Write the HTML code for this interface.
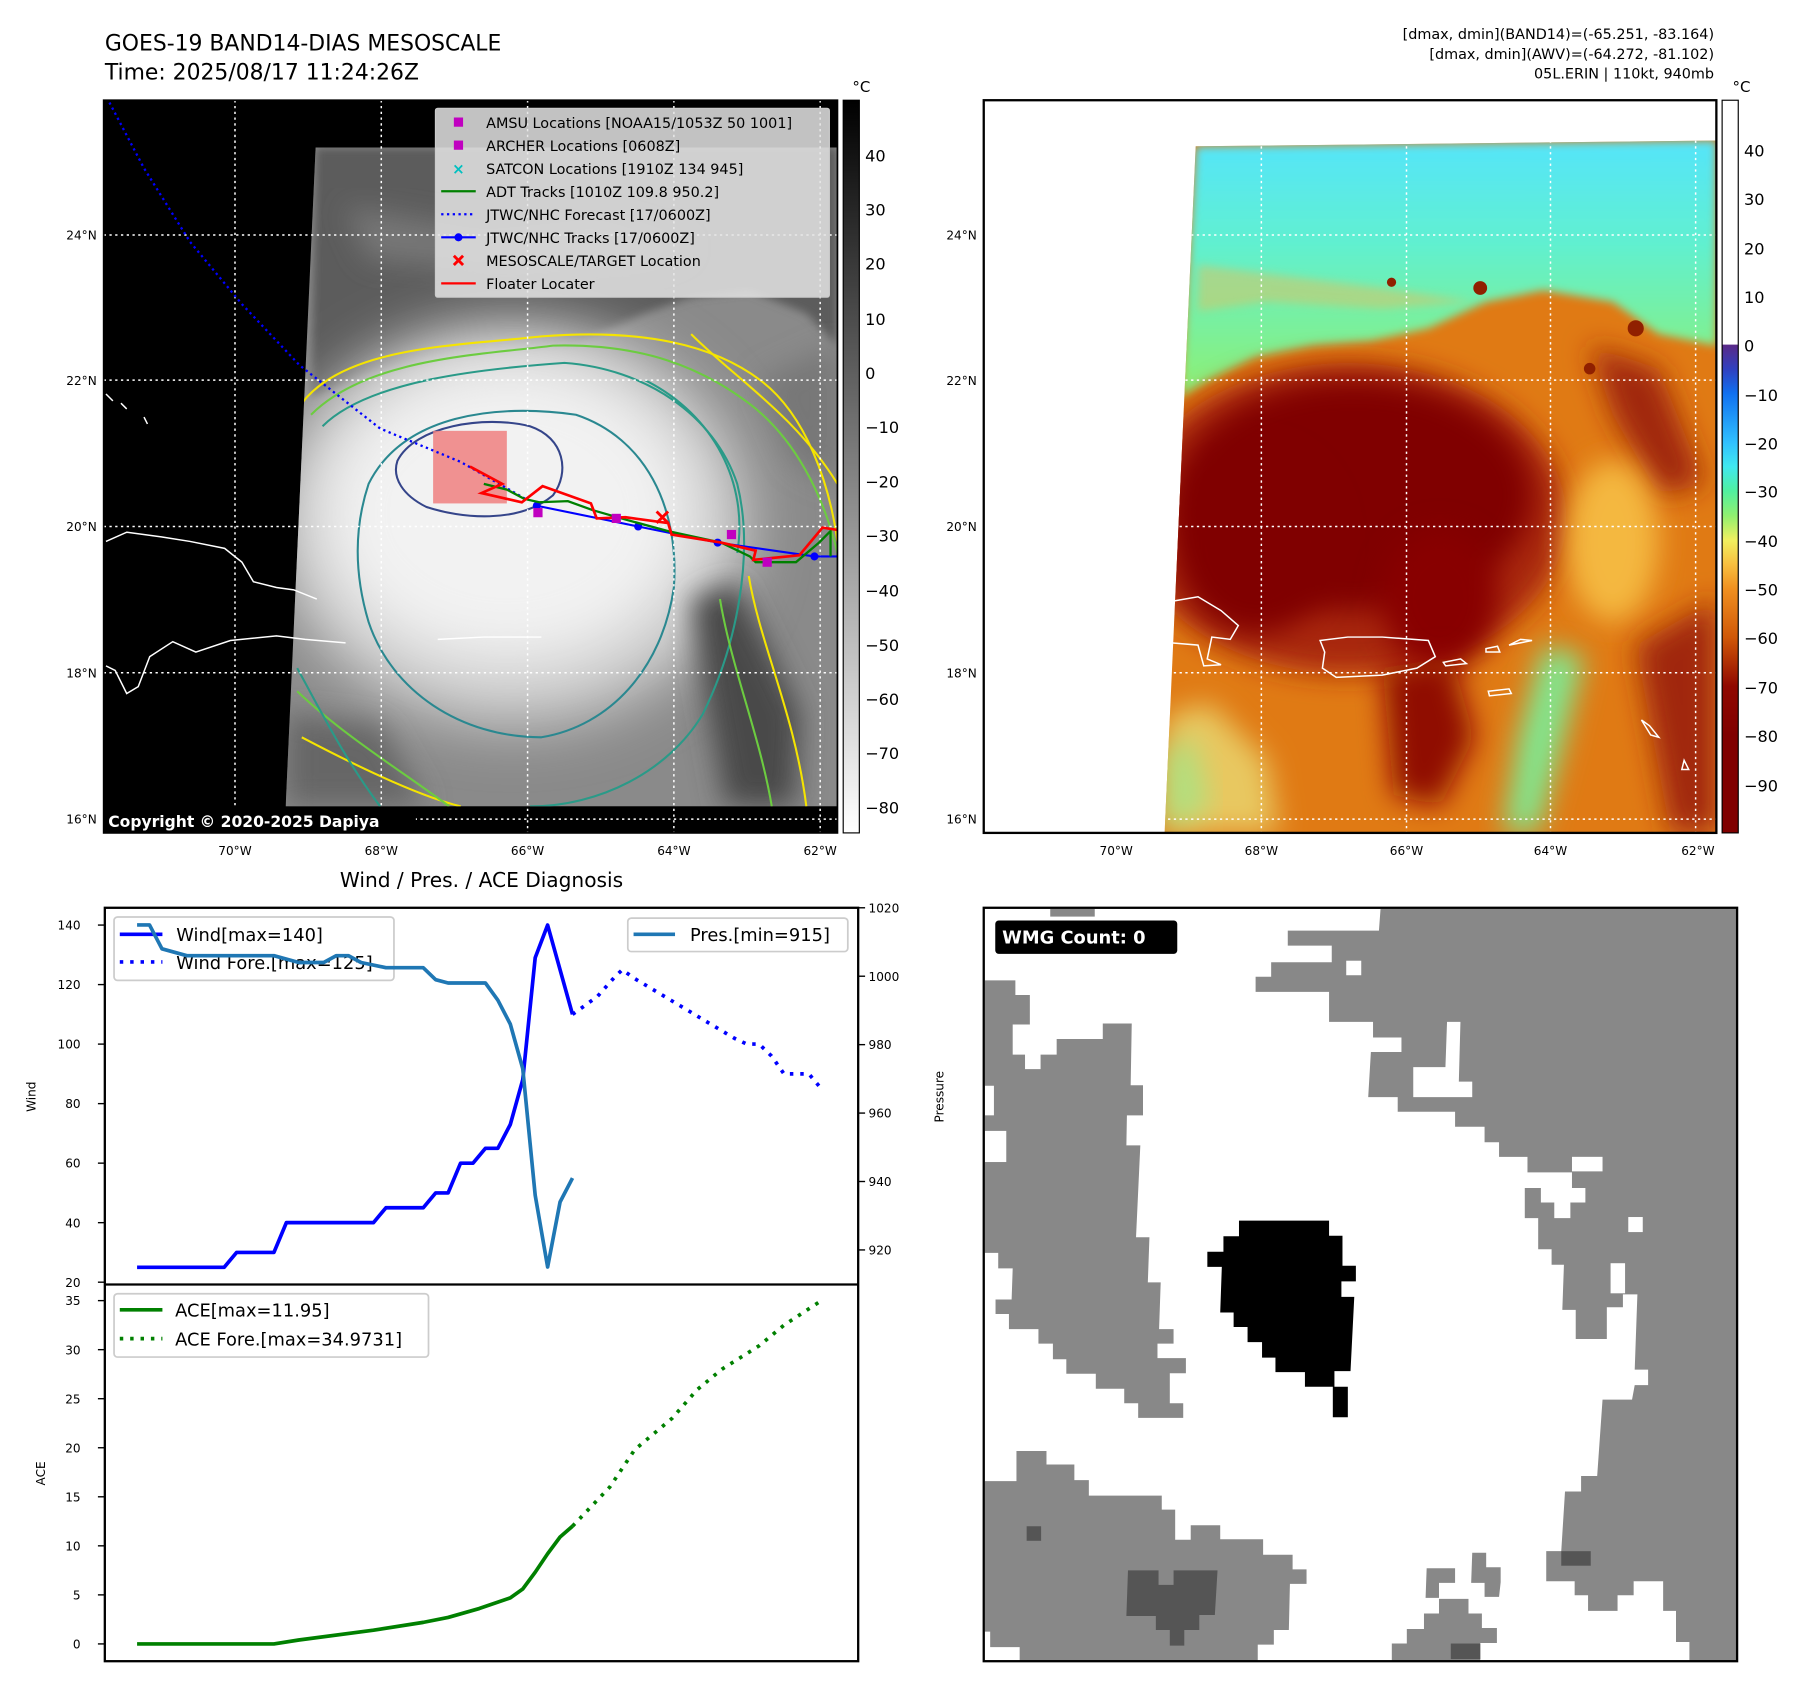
<!DOCTYPE html>
<html><head><meta charset="utf-8"><title>GOES-19 BAND14 Mesoscale</title>
<style>
html,body{margin:0;padding:0;background:#fff;}
svg{display:block;font-family:"DejaVu Sans","Liberation Sans",sans-serif;}
</style></head>
<body>
<svg id="root" xmlns="http://www.w3.org/2000/svg" width="1797" height="1690" viewBox="0 0 1560 1467" preserveAspectRatio="none">
<defs>
 <filter id="b4" x="-20%" y="-20%" width="140%" height="140%"><feGaussianBlur stdDeviation="4"/></filter>
 <filter id="b12" x="-30%" y="-30%" width="160%" height="160%"><feGaussianBlur stdDeviation="12"/></filter>
 <filter id="b25" x="-40%" y="-40%" width="180%" height="180%"><feGaussianBlur stdDeviation="25"/></filter>
 <clipPath id="clip1"><path d="M274,128 L727,128 L727,700 L248,700 Z"/></clipPath>
 <clipPath id="clip2"><path d="M1038,127 L1490,122 L1490,723 L1011,723 Z"/></clipPath>
 <clipPath id="frame1"><rect x="90" y="87" width="637" height="636"/></clipPath>
 <clipPath id="frame2"><rect x="854" y="87" width="636" height="636"/></clipPath>
 <linearGradient id="cb1" x1="0" y1="0" x2="0" y2="1"><stop offset="0" stop-color="#000"/><stop offset="1" stop-color="#fff"/></linearGradient>
 <linearGradient id="cb2" x1="0" y1="0" x2="0" y2="1">
  <stop offset="0" stop-color="#fff"/><stop offset="0.333" stop-color="#fff"/>
  <stop offset="0.334" stop-color="#5a2a88"/><stop offset="0.367" stop-color="#3040c0"/>
  <stop offset="0.40" stop-color="#1070f0"/><stop offset="0.467" stop-color="#30c0ff"/>
  <stop offset="0.50" stop-color="#40e8f0"/><stop offset="0.533" stop-color="#50f0a0"/>
  <stop offset="0.567" stop-color="#90f070"/><stop offset="0.60" stop-color="#f0f060"/>
  <stop offset="0.633" stop-color="#f8c040"/><stop offset="0.667" stop-color="#f09020"/>
  <stop offset="0.733" stop-color="#d05808"/><stop offset="0.80" stop-color="#900800"/>
  <stop offset="0.867" stop-color="#800000"/><stop offset="1" stop-color="#800000"/>
 </linearGradient>
 <linearGradient id="topcyan" x1="0" y1="0" x2="0" y2="1">
  <stop offset="0" stop-color="#55e4fa"/><stop offset="0.4" stop-color="#60f0d0"/><stop offset="1" stop-color="#90f070"/>
 </linearGradient>
</defs>

<text x="91" y="44" font-size="19" fill="#000">GOES-19 BAND14-DIAS MESOSCALE</text>
<text x="91" y="69" font-size="19" fill="#000">Time: 2025/08/17 11:24:26Z</text>
<g font-size="12.5" text-anchor="end" fill="#000">
 <text x="1488" y="34">[dmax, dmin](BAND14)=(-65.251, -83.164)</text>
 <text x="1488" y="51">[dmax, dmin](AWV)=(-64.272, -81.102)</text>
 <text x="1488" y="68">05L.ERIN | 110kt, 940mb</text>
</g>

<!-- MAP 1 -->
<g>
 <rect x="90" y="87" width="637" height="636" fill="#000"/>
 <g clip-path="url(#clip1)">
  <rect x="240" y="120" width="500" height="600" fill="#8a8a8a"/>
  <path d="M274,128 L727,128 L727,300 L700,272 L650,252 L600,258 L560,272 L500,298 L440,304 L380,310 L320,325 L270,345 Z" fill="#5c5c5c" filter="url(#b4)"/>
  <path d="M300,180 L420,200 L520,190 L600,215 L560,230 L430,235 L320,225 Z" fill="#777" filter="url(#b12)"/>
  <ellipse cx="445" cy="455" rx="205" ry="175" fill="#cfcfcf" filter="url(#b25)"/>
  <ellipse cx="440" cy="445" rx="160" ry="130" fill="#f2f2f2" filter="url(#b25)"/>
  <path d="M600,520 L640,505 L695,620 L690,700 L630,700 L612,600 Z" fill="#4a4a4a" filter="url(#b12)"/>
  <path d="M248,620 L330,630 L370,700 L248,700 Z" fill="#666" filter="url(#b12)"/>
  <path d="M660,330 L727,300 L727,420 L690,400 Z" fill="#777" filter="url(#b12)"/>
 </g>
 <g clip-path="url(#clip1)" fill="none" stroke-width="1.8">
  <path d="M262,350 C300,300 400,300 470,292 C560,285 620,300 660,330 C700,360 720,420 727,470 M262,640 C300,660 360,690 400,700" stroke="#f5e400"/>
  <path d="M270,360 C320,310 420,308 480,300 C560,298 610,320 650,350 C690,380 715,430 727,480 M258,600 C300,640 350,670 390,700" stroke="#6ccc40"/>
  <path d="M280,370 C320,330 420,320 490,315 C560,320 620,360 640,420 C655,480 640,560 610,620 C580,670 520,700 460,700 M258,580 C280,620 300,660 330,700" stroke="#2a9a88"/>
  <path d="M320,420 C350,360 430,350 500,360 C560,380 590,440 585,510 C575,580 530,630 470,640 C400,640 340,600 320,540 C305,490 310,450 320,420 Z" stroke="#2a8890"/>
  <path d="M345,400 C360,370 420,360 460,370 C490,380 495,410 480,430 C450,455 400,450 370,440 C350,430 340,415 345,400 Z" stroke="#35458a"/>
  <path d="M600,290 C640,330 690,360 727,420" stroke="#f5e400"/>
  <path d="M650,500 C660,560 690,620 700,700" stroke="#f5e400"/>
  <path d="M625,520 C635,580 660,640 670,700" stroke="#6ccc40"/>
  <path d="M560,330 C620,360 650,420 640,480" stroke="#2a9a88"/>
 </g>
 <g fill="none" stroke="#fff" stroke-width="1.3" clip-path="url(#frame1)">
  <path d="M92,470 L110,462 L140,466 L165,470 L195,476 L210,488 L220,505 L240,510 L255,512 L275,520"/>
  <path d="M92,578 L100,582 L110,602 L120,596 L130,570 L150,557 L170,566 L200,556 L240,552 L265,555 L300,558"/>
  <path d="M380,555 L420,553 L470,553"/>
  <path d="M92,342 L98,348 M105,350 L110,355 M125,362 L128,368"/>
 </g>
 <g stroke="#fff" stroke-width="1.3" stroke-dasharray="2,3" clip-path="url(#frame1)">
  <line x1="204" y1="87" x2="204" y2="723"/><line x1="331" y1="87" x2="331" y2="723"/><line x1="458" y1="87" x2="458" y2="723"/><line x1="585" y1="87" x2="585" y2="723"/><line x1="712" y1="87" x2="712" y2="723"/>
  <line x1="90" y1="204" x2="727" y2="204"/><line x1="90" y1="330" x2="727" y2="330"/><line x1="90" y1="457" x2="727" y2="457"/><line x1="90" y1="584" x2="727" y2="584"/><line x1="90" y1="711" x2="727" y2="711"/>
 </g>
 <rect x="376" y="374" width="64" height="63" fill="#f08080" opacity="0.85"/>
 <g clip-path="url(#frame1)">
  <path d="M95,89 L125,146 L165,210 L210,264 L260,317 L330,372 L400,401 L456,433" fill="none" stroke="#0000ff" stroke-width="2" stroke-dasharray="2,3"/>
  <polyline points="466,439 554,457 623,471 707,483 727,483" fill="none" stroke="#0000ff" stroke-width="1.8"/>
  <g fill="#0000ff"><circle cx="466" cy="439" r="3.5"/><circle cx="554" cy="457" r="3.5"/><circle cx="623" cy="471" r="3.5"/><circle cx="707" cy="483" r="3.5"/></g>
  <polyline points="420,420 440,425 455,433 468,436 493,435 515,443 543,451 580,461 626,471 651,483 656,488 691,488 711,471 721,461 721,483" fill="none" stroke="#008000" stroke-width="2"/>
  <polyline points="408,405 436,420 418,428 453,436 471,422 513,437 518,450 543,449 580,454 583,464 626,471 656,478 654,486 694,482 714,458 727,460" fill="none" stroke="#ff0000" stroke-width="2.3"/>
  <g fill="#c000c0"><rect x="463" y="441" width="8" height="8"/><rect x="531" y="446" width="8" height="8"/><rect x="631" y="460" width="8" height="8"/><rect x="662" y="484" width="8" height="8"/></g>
  <path d="M570,444 L580,454 M580,444 L570,454" stroke="#ff0000" stroke-width="2.5"/>
 </g>
 <rect x="90" y="87" width="637" height="636" fill="none" stroke="#000" stroke-width="1.5"/>
 <rect x="90" y="701" width="271" height="22" fill="#000"/>
 <text x="94" y="718" font-size="13.5" font-weight="bold" fill="#fff">Copyright © 2020-2025 Dapiya</text>
 <g>
  <rect x="378" y="94" width="342" height="164" fill="#e4e4e4" fill-opacity="0.85" stroke="#ccc" rx="2"/>
  <g font-size="12.5" fill="#000">
   <rect x="394" y="102" width="8" height="8" fill="#c000c0"/><text x="422" y="111">AMSU Locations [NOAA15/1053Z 50 1001]</text>
   <rect x="394" y="122" width="8" height="8" fill="#c000c0"/><text x="422" y="131">ARCHER Locations [0608Z]</text>
   <text x="398" y="151" fill="#00c0c0" font-size="13" text-anchor="middle" font-weight="bold">×</text><text x="422" y="151">SATCON Locations [1910Z 134 945]</text>
   <line x1="383" y1="166" x2="413" y2="166" stroke="#008000" stroke-width="2"/><text x="422" y="171">ADT Tracks [1010Z 109.8 950.2]</text>
   <line x1="383" y1="186" x2="413" y2="186" stroke="#0000ff" stroke-width="2" stroke-dasharray="2,3"/><text x="422" y="191">JTWC/NHC Forecast [17/0600Z]</text>
   <line x1="383" y1="206" x2="413" y2="206" stroke="#0000ff" stroke-width="1.8"/><circle cx="398" cy="206" r="3.5" fill="#0000ff"/><text x="422" y="211">JTWC/NHC Tracks [17/0600Z]</text>
   <path d="M394,222 L402,230 M402,222 L394,230" stroke="#ff0000" stroke-width="2.5"/><text x="422" y="231">MESOSCALE/TARGET Location</text>
   <line x1="383" y1="246" x2="413" y2="246" stroke="#ff0000" stroke-width="2"/><text x="422" y="251">Floater Locater</text>
  </g>
 </g>
 <g font-size="10.5" fill="#000">
  <text x="84" y="208" text-anchor="end">24°N</text><text x="84" y="334" text-anchor="end">22°N</text><text x="84" y="461" text-anchor="end">20°N</text><text x="84" y="588" text-anchor="end">18°N</text><text x="84" y="715" text-anchor="end">16°N</text>
  <text x="204" y="742" text-anchor="middle">70°W</text><text x="331" y="742" text-anchor="middle">68°W</text><text x="458" y="742" text-anchor="middle">66°W</text><text x="585" y="742" text-anchor="middle">64°W</text><text x="712" y="742" text-anchor="middle">62°W</text>
 </g>
 <g>
  <rect x="732" y="87" width="14" height="636" fill="url(#cb1)" stroke="#000" stroke-width="1"/>
  <text x="740" y="80" font-size="13">°C</text>
  <g font-size="14" fill="#000">
   <text x="751" y="140">40</text><text x="751" y="187">30</text><text x="751" y="234">20</text><text x="751" y="282">10</text><text x="751" y="329">0</text>
   <text x="751" y="376">−10</text><text x="751" y="423">−20</text><text x="751" y="470">−30</text><text x="751" y="518">−40</text><text x="751" y="565">−50</text>
   <text x="751" y="612">−60</text><text x="751" y="659">−70</text><text x="751" y="706">−80</text>
  </g>
 </g>
</g>

<!-- MAP 2 -->
<g>
 <rect x="854" y="87" width="636" height="636" fill="#fff"/>
 <g clip-path="url(#clip2)">
  <rect x="1000" y="110" width="500" height="620" fill="#e07a14"/>
  <path d="M1038,127 L1490,122 L1490,300 L1440,290 L1400,262 L1340,252 L1290,262 L1240,285 L1190,296 L1140,300 L1090,310 L1050,330 L1025,345 Z" fill="url(#topcyan)" filter="url(#b4)"/>
  <path d="M1040,230 L1120,240 L1200,250 L1280,262 L1200,268 L1100,262 L1040,270 Z" fill="#e0c060" opacity="0.5" filter="url(#b4)"/>
  <ellipse cx="1170" cy="450" rx="190" ry="135" fill="#a82808" filter="url(#b12)"/>
  <ellipse cx="1175" cy="430" rx="155" ry="100" fill="#800000" filter="url(#b12)"/>
  <ellipse cx="1090" cy="470" rx="70" ry="80" fill="#800000" filter="url(#b12)"/>
  <ellipse cx="1250" cy="520" rx="50" ry="60" fill="#880400" filter="url(#b12)"/>
  <path d="M1380,300 L1440,320 L1480,420 L1440,430 L1400,360 Z" fill="#a02808" filter="url(#b12)"/>
  <ellipse cx="1400" cy="470" rx="40" ry="70" fill="#f4b840" filter="url(#b12)"/>
  <path d="M1200,580 L1260,570 L1280,640 L1250,700 L1210,690 Z" fill="#900c00" filter="url(#b12)"/>
  <path d="M1340,560 L1375,570 L1355,650 L1335,723 L1305,723 L1318,640 Z" fill="#80e890" filter="url(#b12)"/>
  <path d="M1012,620 L1050,610 L1100,660 L1110,723 L1011,723 Z" fill="#e8c860" filter="url(#b12)"/>
  <path d="M1011,650 L1035,640 L1050,700 L1011,723 Z" fill="#b0e080" filter="url(#b12)"/>
  <path d="M1420,560 L1490,520 L1490,723 L1450,723 Z" fill="#a02808" filter="url(#b12)"/>
  <g fill="#902000"><circle cx="1208" cy="245" r="4"/><circle cx="1285" cy="250" r="6"/><circle cx="1420" cy="285" r="7"/><circle cx="1380" cy="320" r="5"/></g>
 </g>
 <g fill="none" stroke="#fff" stroke-width="1.3" clip-path="url(#frame2)">
  <path d="M1017,522 L1040,518 L1060,530 L1075,543 L1068,555 L1052,553 L1048,572 L1060,577 L1045,578 L1040,560 L1017,558"/>
  <path d="M1146,556 L1170,553 L1200,553 L1240,556 L1246,570 L1230,580 L1200,586 L1160,588 L1148,580 L1150,566 Z"/>
  <path d="M1253,575 L1268,572 L1273,576 L1255,578 Z M1290,563 L1300,561 L1302,566 L1290,566 Z M1310,560 L1320,555 L1330,556 Z"/>
  <path d="M1292,600 L1310,598 L1312,602 L1293,604 Z M1425,625 L1432,630 L1440,640 L1433,638 Z M1462,660 L1466,668 L1460,668 Z"/>
 </g>
 <g stroke="#fff" stroke-width="1.3" stroke-dasharray="2,3" clip-path="url(#clip2)">
  <line x1="969" y1="87" x2="969" y2="723"/><line x1="1095" y1="87" x2="1095" y2="723"/><line x1="1221" y1="87" x2="1221" y2="723"/><line x1="1346" y1="87" x2="1346" y2="723"/><line x1="1472" y1="87" x2="1472" y2="723"/>
  <line x1="854" y1="204" x2="1490" y2="204"/><line x1="854" y1="330" x2="1490" y2="330"/><line x1="854" y1="457" x2="1490" y2="457"/><line x1="854" y1="584" x2="1490" y2="584"/><line x1="854" y1="711" x2="1490" y2="711"/>
 </g>
 <rect x="854" y="87" width="636" height="636" fill="none" stroke="#000" stroke-width="2"/>
 <g font-size="10.5" fill="#000">
  <text x="848" y="208" text-anchor="end">24°N</text><text x="848" y="334" text-anchor="end">22°N</text><text x="848" y="461" text-anchor="end">20°N</text><text x="848" y="588" text-anchor="end">18°N</text><text x="848" y="715" text-anchor="end">16°N</text>
  <text x="969" y="742" text-anchor="middle">70°W</text><text x="1095" y="742" text-anchor="middle">68°W</text><text x="1221" y="742" text-anchor="middle">66°W</text><text x="1346" y="742" text-anchor="middle">64°W</text><text x="1474" y="742" text-anchor="middle">62°W</text>
 </g>
 <g>
  <rect x="1495" y="87" width="14" height="636" fill="url(#cb2)" stroke="#000" stroke-width="1"/>
  <text x="1504" y="80" font-size="13">°C</text>
  <g font-size="14" fill="#000">
   <text x="1514" y="136">40</text><text x="1514" y="178">30</text><text x="1514" y="221">20</text><text x="1514" y="263">10</text><text x="1514" y="305">0</text>
   <text x="1514" y="348">−10</text><text x="1514" y="390">−20</text><text x="1514" y="432">−30</text><text x="1514" y="475">−40</text><text x="1514" y="517">−50</text>
   <text x="1514" y="559">−60</text><text x="1514" y="602">−70</text><text x="1514" y="644">−80</text><text x="1514" y="687">−90</text>
  </g>
 </g>
</g>

<!-- WMG panel -->
<g>
 <rect x="854" y="788" width="654" height="654" fill="#fff"/>
 <g transform="translate(854,788) scale(0.4655,0.4504) translate(-36,-45)">
  <g fill="#888">
   <path d="M776,47 L1440,47 L1440,1497 L1352,1497 L1352,1460 L1327,1460 L1327,1400 L1303,1400 L1303,1343 L1248,1343 L1248,1370 L1218,1370 L1218,1400 L1163,1400 L1163,1370 L1138,1370 L1138,1343 L1085,1343 L1085,1285 L1113,1285 L1120,1170 L1150,1170 L1150,1140 L1180,1140 L1190,993 L1245,993 L1250,965 L1275,965 L1275,935 L1250,935 L1255,790 L1228,790 L1228,815 L1198,815 L1198,876 L1140,876 L1140,820 L1115,820 L1118,733 L1095,733 L1095,703 L1070,703 L1070,643 L1045,643 L1045,585 L1075,585 L1075,613 L1100,613 L1100,643 L1130,643 L1130,613 L1158,613 L1158,585 L1133,585 L1133,555 L1050,555 L1050,525 L997,525 L997,497 L970,497 L970,467 L915,467 L915,438 L808,438 L808,410 L753,410 L758,323 L815,323 L815,295 L762,295 L762,265 L680,265 L680,207 L543,207 L543,178 L572,178 L572,150 L685,150 L685,118 L603,118 L603,89 L773,89 Z"/>
   <rect x="160" y="47" width="83" height="15"/>
   <path d="M38,185 L95,185 L95,213 L122,213 L122,270 L90,270 L90,328 L113,328 L113,356 L142,356 L142,328 L172,328 L172,298 L258,298 L258,268 L312,268 L310,387 L333,387 L333,445 L303,445 L302,503 L328,503 L320,680 L345,680 L342,767 L366,767 L363,857 L390,857 L390,885 L360,885 L360,913 L413,913 L413,942 L383,942 L383,1000 L408,1000 L408,1028 L324,1028 L324,1000 L298,1000 L298,972 L245,972 L245,943 L190,943 L190,915 L165,915 L165,885 L138,885 L138,857 L83,857 L83,828 L58,828 L58,800 L88,800 L90,740 L63,740 L63,710 L38,710 Z"/>
   <path d="M38,1150 L97,1150 L97,1092 L153,1092 L153,1118 L205,1118 L205,1148 L232,1148 L232,1178 L368,1178 L368,1205 L393,1205 L393,1263 L422,1263 L422,1235 L477,1235 L477,1262 L557,1262 L557,1292 L612,1292 L612,1320 L638,1320 L638,1348 L607,1348 L605,1437 L577,1437 L577,1465 L547,1465 L547,1497 L103,1497 L103,1470 L48,1470 L48,1440 L38,1440 Z"/>
   <path d="M797,1497 L797,1463 L825,1463 L825,1435 L857,1435 L857,1405 L885,1405 L885,1377 L940,1377 L940,1405 L965,1405 L965,1433 L993,1433 L993,1462 L962,1462 L962,1497 Z"/>
   <path d="M862,1318 L915,1318 L915,1346 L885,1346 L885,1375 L860,1375 Z"/>
   <path d="M947,1288 L973,1288 L973,1316 L1000,1316 L1000,1345 L997,1373 L970,1373 L970,1346 L945,1346 Z"/>
  </g>
  <g fill="#fff">
   <rect x="712" y="147" width="28" height="28"/>
   <path d="M900,265 L925,265 L922,380 L947,380 L947,410 L837,410 L837,352 L897,352 Z"/>
   <rect x="1133" y="525" width="57" height="28"/><rect x="1238" y="641" width="27" height="29"/><rect x="1205" y="730" width="27" height="58"/>
   <rect x="38" y="388" width="17" height="57"/><rect x="38" y="475" width="40" height="60"/>
  </g>
  <g fill="#555">
   <rect x="116" y="1237" width="27" height="28"/>
   <path d="M305,1322 L362,1322 L362,1350 L390,1350 L390,1322 L472,1322 L467,1408 L438,1408 L438,1437 L410,1437 L410,1467 L383,1467 L383,1437 L357,1437 L357,1410 L302,1410 Z"/>
   <rect x="907" y="1463" width="55" height="30"/><rect x="1113" y="1285" width="55" height="28"/>
  </g>
  <path d="M453,708 L483,708 L483,678 L512,678 L512,648 L680,648 L680,677 L705,677 L705,735 L730,735 L730,765 L703,765 L703,795 L727,795 L720,938 L690,938 L690,968 L715,968 L715,1027 L687,1027 L687,968 L635,968 L635,940 L580,940 L580,912 L555,912 L555,882 L528,882 L528,853 L502,853 L502,825 L477,825 L480,737 L453,737 Z" fill="#000"/>
 </g>
 <rect x="854" y="788" width="654" height="654" fill="none" stroke="#000" stroke-width="2"/>
 <rect x="864" y="799" width="158" height="29" rx="3" fill="#000"/>
 <text x="870" y="819" font-size="15.5" font-weight="bold" fill="#fff">WMG Count: 0</text>
</g>

<!-- DIAGNOSIS CHART -->
<g id="diag">
 <text x="418" y="770" font-size="17.5" text-anchor="middle">Wind / Pres. / ACE Diagnosis</text>
 <rect x="91" y="788" width="654" height="654" fill="#fff" stroke="#000" stroke-width="2"/>
 <line x1="91" y1="1115" x2="745" y2="1115" stroke="#000" stroke-width="2"/>
 <text transform="translate(31,952) rotate(-90)" font-size="10.5" text-anchor="middle">Wind</text>
 <text transform="translate(819,952) rotate(-90)" font-size="10.5" text-anchor="middle">Pressure</text>
 <text transform="translate(39,1279) rotate(-90)" font-size="10.5" text-anchor="middle">ACE</text>
</g>
<script>
const windT = [0,7,8,11,12,19,20,23,24,25,26,27,28,29,30,31,32,33,35];
const windV = [25,25,30,30,40,40,45,45,50,50,60,60,65,65,73,88,129,140,110];
const windFT = [35,36,37,38.4,39,40,42,44,46,48,49,50,51,52,54,55];
const windFV = [110,113,116,122.6,125,122,117,112,107,102,100,100,96,90,90,85];
const presT = [0,1,2,4,11,13,15,16,17,18,20,23,24,25,28,29,30,31,32,33,34,35];
const presV = [1015,1015,1008,1006,1006,1004,1004,1006,1006,1004,1002.5,1002.5,999,998,998,993,986,973,936,915,934,941];
const aceT = [0,11,13,19,23,25,27.5,30,31,32,33,34,35];
const aceV = [0,0,0.4,1.4,2.2,2.7,3.6,4.7,5.6,7.3,9.2,10.9,12];
const aceFT = [35,38,40,43,45,47,50,52,55];
const aceFV = [12,16,19.8,23,25.9,28,30.4,32.5,35];
const windTicks = [140,120,100,80,60,40,20];
const presTicks = [1020,1000,980,960,940,920];
const aceTicks = [35,30,25,20,15,10,5,0];

const NS = 'http://www.w3.org/2000/svg';
const g = document.getElementById('diag');
function xS(t){ return 119 + t*10.8; }
function yW(v){ return 803 + (140-v)*(310/120); }
function yP(p){ return 788 + (1020-p)*(297/100); }
function yA(a){ return 1427 - a*(298/35); }
function mk(tag, attrs){ const e=document.createElementNS(NS,tag); for(const k in attrs) e.setAttribute(k,attrs[k]); g.appendChild(e); return e; }
function line(ts, vs, ys, color, dash, name){
  const pts = ts.map((t,i)=>xS(t).toFixed(1)+','+ys(vs[i]).toFixed(1)).join(' ');
  const e = mk('polyline',{points:pts,fill:'none',stroke:color,'stroke-width':3.2,'stroke-linejoin':'round'});
  if(dash) e.setAttribute('stroke-dasharray', dash);
  
  
}
function tick(x1,y1,x2,y2){ mk('line',{x1:x1,y1:y1,x2:x2,y2:y2,stroke:'#000','stroke-width':1.2}); }
function label(x,y,txt,anchor,name){
  const e = mk('text',{x:x,y:y,'font-size':10.5,'text-anchor':anchor});
  e.textContent = txt;
  
  
}
windTicks.forEach(v=>{ const y=yW(v); tick(85,y,91,y); label(70,y+4,String(v),'end','wind-tick-label'); });
presTicks.forEach(v=>{ const y=yP(v); tick(745,y,751,y); label(754,y+4,String(v),'start','pressure-tick-label'); });
aceTicks.forEach(v=>{ const y=yA(v); tick(85,y,91,y); label(70,y+4,String(v),'end','ace-tick-label'); });

line(windT, windV, yW, '#0000ff', null, 'wind-line');
line(windFT, windFV, yW, '#0000ff', '3,6', 'wind-forecast-line');

const wl = mk('rect',{x:99,y:796,width:243,height:55,fill:'#fff','fill-opacity':0.85,stroke:'#ccc','stroke-width':1.5,rx:3});


mk('line',{x1:104,y1:811,x2:141,y2:811,stroke:'#0000ff','stroke-width':3.2});
mk('line',{x1:104,y1:835,x2:141,y2:835,stroke:'#0000ff','stroke-width':3.2,'stroke-dasharray':'3,6'});
let t1 = mk('text',{x:153,y:817,'font-size':15.5}); t1.textContent='Wind[max=140]';


let t2 = mk('text',{x:153,y:841,'font-size':15.5}); t2.textContent='Wind Fore.[max=125]';



line(presT, presV, yP, '#1f77b4', null, 'pressure-line');

const pl = mk('rect',{x:545,y:797,width:191,height:29,fill:'#fff','fill-opacity':0.85,stroke:'#ccc','stroke-width':1.5,rx:3});


mk('line',{x1:550,y1:811,x2:586,y2:811,stroke:'#1f77b4','stroke-width':3.2});
let t3 = mk('text',{x:599,y:817,'font-size':15.5}); t3.textContent='Pres.[min=915]';



line(aceT, aceV, yA, '#008000', null, 'ace-line');
line(aceFT, aceFV, yA, '#008000', '3,6', 'ace-forecast-line');

const al = mk('rect',{x:99,y:1123,width:273,height:55,fill:'#fff','fill-opacity':0.85,stroke:'#ccc','stroke-width':1.5,rx:3});


mk('line',{x1:104,y1:1137,x2:141,y2:1137,stroke:'#008000','stroke-width':3.2});
mk('line',{x1:104,y1:1162,x2:141,y2:1162,stroke:'#008000','stroke-width':3.2,'stroke-dasharray':'3,6'});
let t4 = mk('text',{x:152,y:1143,'font-size':15.5}); t4.textContent='ACE[max=11.95]';


let t5 = mk('text',{x:152,y:1168,'font-size':15.5}); t5.textContent='ACE Fore.[max=34.9731]';


</script>
</svg>
</body></html>
